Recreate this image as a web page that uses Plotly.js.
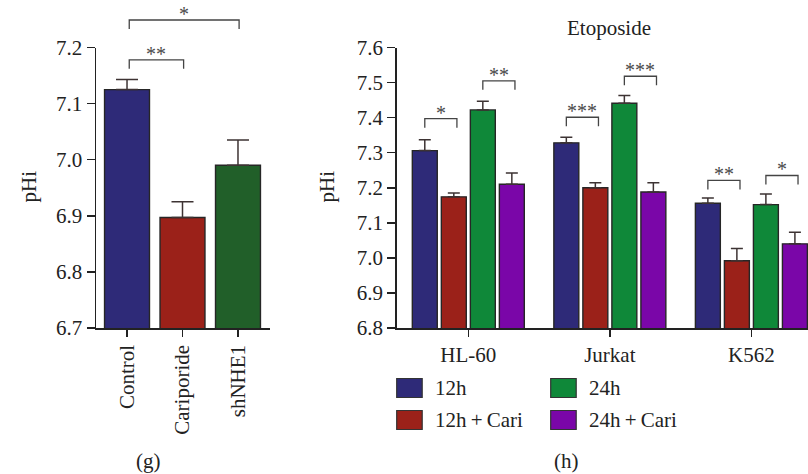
<!DOCTYPE html>
<html>
<head>
<meta charset="utf-8">
<script src="https://cdn.plot.ly/plotly-3.0.1.min.js"></script>
<style>html,body{margin:0;padding:0;background:#fff;}#chart{width:808px;height:474px;}</style>
</head>
<body>
<div id="chart"></div>
<script>
// ---------- data ----------
const groupsG = ['Control', 'Cariporide', 'shNHE1'];
const valuesG = [7.125, 6.897, 6.990];
const errorsG = [0.018, 0.028, 0.045];

const cellsH = ['HL-60', 'Jurkat', 'K562'];
const seriesH = ['12h', '12h\u2009+\u2009Cari', '24h', '24h\u2009+\u2009Cari'];
const values12h = [7.306, 7.328, 7.156];
const errors12h = [0.031, 0.016, 0.015];
const values12hCari = [7.174, 7.200, 6.992];
const errors12hCari = [0.011, 0.014, 0.035];
const values24h = [7.422, 7.441, 7.152];
const errors24h = [0.025, 0.022, 0.030];
const values24hCari = [7.210, 7.188, 7.040];
const errors24hCari = [0.032, 0.026, 0.033];

// significance brackets
const sigG = [[0, 2, 7.249, '*'], [0, 1, 7.178, '**']];
const sigH = [
  [0, 0, 1, 7.397, '*'], [0, 2, 3, 7.505, '**'],
  [1, 0, 1, 7.401, '***'], [1, 2, 3, 7.518, '***'],
  [2, 0, 1, 7.221, '**'], [2, 2, 3, 7.235, '*']
];

// ---------- styling ----------
const W = 808, H = 474;
const PX = x => x / W, PY = y => 1 - y / H;
const FONT = 'Liberation Serif';
const colorsH = ['#2e2a78', '#9b2119', '#0f8839', '#7a06a8'];
const colorsG = ['#2e2a78', '#9b2119', '#215f29'];
const edge = {color: '#262626', width: 1.4};
const errColor = '#3d3333';
const valuesH = [values12h, values12hCari, values24h, values24hCari];
const errorsH = [errors12h, errors12hCari, errors24h, errors24hCari];

const yDomain = [PY(328), PY(47.5)];
const yRangeG = [6.7, 7.2], yRangeH = [6.8, 7.6];
const bargap = 0.18, slot = (1 - bargap) / 4;

const traces = [{
  type: 'bar', x: groupsG, y: valuesG, xaxis: 'x', yaxis: 'y', width: 0.81,
  marker: {color: colorsG, line: edge}, showlegend: false,
  error_y: {type: 'data', array: errorsG, arrayminus: errorsG.map(() => 0), symmetric: false,
            color: errColor, thickness: 1.5, width: 11}
}];
seriesH.forEach((name, i) => traces.push({
  type: 'bar', name: name, x: cellsH, y: valuesH[i], xaxis: 'x2', yaxis: 'y2',
  marker: {color: colorsH[i], line: edge}, showlegend: false,
  error_y: {type: 'data', array: errorsH[i], arrayminus: errorsH[i].map(() => 0), symmetric: false,
            color: errColor, thickness: 1.5, width: 6}
}));

const toPaper = (v, r) => yDomain[0] + (v - r[0]) / (r[1] - r[0]) * (yDomain[1] - yDomain[0]);
const legPx = 9;
const shapes = [], annotations = [];
const lineStyle = {color: '#444', width: 1.3};

function bracket(xref, x0, x1, level, range, label) {
  const yp = toPaper(level, range);
  const yl = yp - legPx / H;
  shapes.push({type: 'path', xref: xref, yref: 'paper',
    path: `M${x0},${yl} L${x0},${yp} L${x1},${yp} L${x1},${yl}`, line: lineStyle});
  annotations.push({xref: xref, yref: 'paper', x: (x0 + x1) / 2, y: yp, yanchor: 'bottom',
    text: label, showarrow: false, yshift: -7, font: {family: FONT, size: 20, color: '#4a4a4a'}});
}
sigG.forEach(s => bracket('x', s[0] + 0.04, s[1] + 0.02, s[2], yRangeG, s[3]));
const off = i => (i - 1.5) * slot;
sigH.forEach(s => bracket('x2', s[0] + off(s[1]), s[0] + off(s[2]) + 0.022, s[3], yRangeH, s[4]));

// legend drawn manually
const legendPos = [[396.7, 378.5], [396.7, 410.5], [550.7, 378.5], [550.7, 410.5]];
seriesH.forEach((name, i) => {
  const [lx, ly] = legendPos[i];
  shapes.push({type: 'rect', xref: 'paper', yref: 'paper', x0: PX(lx), x1: PX(lx + 25.5),
    y0: PY(ly), y1: PY(ly + 19), fillcolor: colorsH[i], line: {color: '#333', width: 1.2}});
  annotations.push({xref: 'paper', yref: 'paper', x: PX(lx + 36), y: PY(ly + 9.5), xanchor: 'left',
    yanchor: 'middle', text: name, showarrow: false, font: {family: FONT, size: 21, color: '#222'}});
});

const txt = (x, y, t, extra) => Object.assign({xref: 'paper', yref: 'paper', x: PX(x), y: PY(y),
  text: t, showarrow: false, xanchor: 'center', yanchor: 'middle',
  font: {family: FONT, size: 21, color: '#222'}}, extra || {});
annotations.push(txt(28, 186.5, 'pHi', {textangle: -90}));
annotations.push(txt(326, 186.5, 'pHi', {textangle: -90}));
annotations.push(txt(609, 28, 'Etoposide'));
annotations.push(txt(148, 461, '(g)'));
annotations.push(txt(566, 461, '(h)'));

const axisBase = () => ({showline: true, linecolor: '#222', linewidth: 1.5, ticks: 'outside', ticklen: 8,
  tickwidth: 1.5, tickcolor: '#222', showgrid: false, zeroline: false,
  tickfont: {family: FONT, size: 21, color: '#222'}});

const layout = {
  width: W, height: H, margin: {l: 0, r: 0, t: 0, b: 0, pad: 0},
  font: {family: FONT, size: 21, color: '#222'},
  paper_bgcolor: '#fff', plot_bgcolor: '#fff', showlegend: false,
  barmode: 'group', bargap: bargap, bargroupgap: 0.14,
  xaxis: Object.assign(axisBase(), {domain: [PX(96), PX(270)], type: 'category',
    range: [-0.559, 2.577], tickangle: -90, ticklen: 7, anchor: 'y'}),
  yaxis: Object.assign(axisBase(), {domain: yDomain, range: yRangeG, dtick: 0.1,
    tickformat: '.1f', anchor: 'x'}),
  xaxis2: Object.assign(axisBase(), {domain: [PX(396.7), 1], type: 'category',
    range: [-0.506, 2.40], ticklen: 7, anchor: 'y2'}),
  yaxis2: Object.assign(axisBase(), {domain: yDomain, range: yRangeH, dtick: 0.1,
    tickformat: '.1f', anchor: 'x2'}),
  shapes: shapes, annotations: annotations
};

Plotly.newPlot('chart', traces, layout, {staticPlot: true, displayModeBar: false});
</script>
</body>
</html>
